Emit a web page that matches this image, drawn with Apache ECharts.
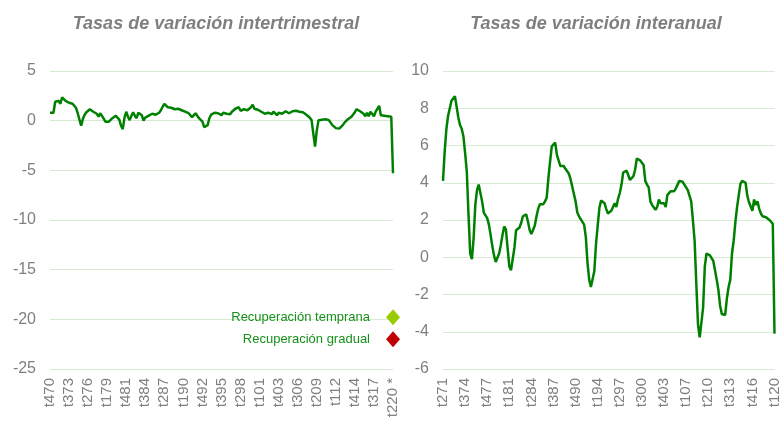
<!DOCTYPE html>
<html>
<head>
<meta charset="utf-8">
<script src="https://cdn.jsdelivr.net/npm/echarts@6/dist/echarts.min.js"></script>
<style>html,body{margin:0;padding:0;background:#fff}#c{width:782px;height:421px}</style>
</head>
<body>
<div id="c"></div>
<script>
// Quarter labels: "t" + quarter + two-digit year
function quarterLabels(year, q, n) {
  var out = [];
  for (var k = 0; k < n; k++) {
    out.push('t' + q + String(year % 100).padStart(2, '0'));
    q++; if (q > 4) { q = 1; year++; }
  }
  return out;
}

var leftTitle = 'Tasas de variación intertrimestral';
var rightTitle = 'Tasas de variación interanual';

// Quarter-on-quarter rates (1970 T4 .. 2020 T2)
var leftValues = [
  0.8, 0.8, 0.8, 1.9, 1.8, 2.0, 1.7, 2.35, 2.2, 2.0,
  1.9, 1.8, 1.75, 1.7, 1.7, 1.3, 0.75, 0.1, -0.5, 0.2,
  0.6, 0.85, 1.05, 1.15, 1.0, 0.9, 0.85, 0.7, 0.4, 0.75,
  0.6, 0.2, -0.1, -0.15, -0.1, 0.1, 0.25, 0.4, 0.5, 0.7,
  0.1, -0.5, -0.85, 0.3, 0.9, 0.4, 0.05, 0.5, 0.85, 0.5,
  0.25, 0.8, 0.75, 0.55, 0.0, 0.3, 0.45, 0.5, 0.55, 0.7,
  0.9, 0.6, 0.45, 0.8, 1.05, 1.4, 1.7, 1.6, 1.35, 1.15,
  1.3, 1.25, 1.15, 1.05, 1.2, 1.15, 1.05, 0.95, 0.9, 0.85,
  0.75, 0.55, 0.35, 0.55, 0.75, 0.5, 0.25, 0.05, -0.1, -0.65,
  -0.6, -0.45, 0.25, 0.6, 0.8, 0.8, 0.75, 0.75, 0.6, 0.55,
  0.8, 0.65, 0.7, 0.9, 0.65, 0.9, 1.05, 1.2, 1.3, 1.35,
  1.0, 1.05, 1.15, 1.1, 1.05, 1.2, 1.35, 1.6, 1.2, 1.05,
  1.1, 0.95, 0.9, 0.8, 0.7, 0.55, 0.8, 0.75, 0.65, 0.9,
  0.7, 0.55, 0.8, 0.9, 0.7, 0.75, 0.95, 0.9, 0.75, 0.85,
  0.95, 1.05, 1.0, 0.9, 0.9, 0.85, 0.85, 0.8, 0.6, 0.45,
  0.3, 0.05, -1.3, -2.6, -1.0, 0.05, 0.25, 0.1, 0.05, 0.15,
  0.15, 0.05, -0.2, -0.45, -0.6, -0.75, -0.95, -0.8, -0.65, -0.45,
  -0.2, 0.0, 0.15, 0.3, 0.4, 0.6, 0.85, 1.15, 1.05, 0.95,
  0.9, 0.7, 0.45, 0.8, 0.45, 0.9, 0.7, 0.45, 0.9, 0.8,
  1.5, 0.55, 0.55, 0.5, 0.4, 0.45, 0.4, 0.4, -5.3
];

// Year-on-year rates (1971 T2 .. 2020 T1)
var rightValues = [
  4.1, 5.7, 6.9, 7.6, 8.0, 8.4, 8.45, 8.65, 8.1, 7.5,
  7.1, 6.9, 6.5, 5.6, 4.6, 2.3, 0.2, -0.1, 1.0, 2.8,
  3.6, 3.9, 3.8, 3.0, 2.4, 2.3, 2.1, 1.75, 1.2, 0.6,
  0.1, -0.25, -0.25, 0.2, 0.65, 1.2, 1.65, 1.5, 0.5, -0.5,
  -0.7, -0.1, 0.5, 1.45, 1.55, 1.6, 1.85, 2.2, 2.3, 2.3,
  1.9, 1.45, 1.25, 1.2, 1.7, 2.2, 2.6, 2.85, 2.85, 2.85,
  3.0, 3.2, 4.25, 5.15, 5.95, 6.05, 6.15, 5.5, 5.2, 4.9,
  4.85, 4.9, 4.75, 4.65, 4.5, 4.2, 3.8, 3.4, 3.0, 2.4,
  2.2, 2.1, 1.9, 1.75, 1.1, -0.3, -1.2, -1.6, -1.65, -0.75,
  0.7, 1.7, 2.65, 3.05, 3.0, 2.9, 2.6, 2.35, 2.3, 2.5,
  2.55, 2.9, 2.7, 3.15, 3.45, 3.9, 4.55, 4.5, 4.65, 4.4,
  4.15, 4.25, 4.35, 4.7, 5.3, 5.4, 5.2, 5.1, 4.95, 4.1,
  3.9, 3.75, 3.0, 2.8, 2.85, 2.55, 2.7, 3.1, 2.9, 3.0,
  2.9, 2.7, 3.35, 3.4, 3.55, 3.6, 3.55, 3.7, 3.9, 4.1,
  4.1, 4.05, 3.9, 3.8, 3.6, 3.5, 3.0, 2.0, 0.9, -1.4,
  -3.6, -4.3, -4.4, -2.7, -0.5, 0.2, 0.3, 0.1, 0.05, -0.2,
  -0.7, -1.2, -1.75, -2.6, -3.05, -3.15, -3.1, -2.2, -1.6, -1.2,
  0.2, 0.9, 1.9, 2.7, 3.35, 3.95, 4.1, 4.15, 4.0, 3.3,
  2.95, 2.9, 2.5, 3.1, 2.8, 3.0, 2.6, 2.35, 2.2, 2.2,
  2.15, 2.1, 2.0, 1.9, 1.8, -4.1
];

var leftCategories = quarterLabels(1970, 4, leftValues.length);
leftCategories[leftCategories.length - 1] = leftCategories[leftCategories.length - 1] + ' *';
var rightCategories = quarterLabels(1971, 2, rightValues.length);

// Scenario markers at the last quarter of the left panel
var scenarioNames = ['Recuperación temprana', 'Recuperación gradual'];
var scenarioValues = [-19.8, -22.0];
var scenarioColors = ['#99cc00', '#c00000'];

var gridColor = '#d7e9d3';
var textGray = '#7f7f7f';
var lineGreen = '#008000';
var font = 'Liberation Sans, Arial, sans-serif';

function xAx(gridIndex, data, interval) {
  return {
    type: 'category', gridIndex: gridIndex, data: data, boundaryGap: false,
    axisLine: { show: false }, axisTick: { show: false },
    axisLabel: { rotate: 90, interval: interval, color: textGray, fontSize: 15,
      fontFamily: font, margin: 9 },
    splitLine: { show: false }
  };
}
function yAx(gridIndex, min, max, interval) {
  return {
    type: 'value', gridIndex: gridIndex, min: min, max: max, interval: interval,
    axisLine: { show: false }, axisTick: { show: false },
    axisLabel: { color: textGray, fontSize: 16, fontFamily: font, margin: 14 },
    splitLine: { lineStyle: { color: gridColor, width: 1 } }
  };
}

var scatterSeries = scenarioNames.map(function (name, k) {
  var d = new Array(leftValues.length).fill('-');
  d[leftValues.length - 1] = scenarioValues[k];
  return {
    name: name, type: 'scatter', xAxisIndex: 0, yAxisIndex: 0, data: d,
    symbol: 'diamond', symbolSize: [14, 16], clip: false, z: 5,
    itemStyle: { color: scenarioColors[k], opacity: 1 },
    label: { show: true, position: 'left', distance: 16, formatter: name,
      color: '#16901a', fontSize: 13, fontFamily: font }
  };
});

var chart = echarts.init(document.getElementById('c'), null, { renderer: 'canvas' });
chart.setOption({
  animation: false,
  backgroundColor: '#ffffff',
  title: [
    { text: leftTitle, left: 211, top: 10, textAlign: 'center',
      textStyle: { color: textGray, fontSize: 18, fontWeight: 'bold', fontStyle: 'italic', fontFamily: font } },
    { text: rightTitle, left: 591, top: 10, textAlign: 'center',
      textStyle: { color: textGray, fontSize: 18, fontWeight: 'bold', fontStyle: 'italic', fontFamily: font } }
  ],
  grid: [
    { left: 50, right: 389, top: 71, bottom: 52 },
    { left: 443, right: 7, top: 71, bottom: 52 }
  ],
  xAxis: [ xAx(0, leftCategories, 10), xAx(1, rightCategories, 12) ],
  yAxis: [ yAx(0, -25, 5, 5), yAx(1, -6, 10, 2) ],
  series: [
    { type: 'line', xAxisIndex: 0, yAxisIndex: 0, data: leftValues, showSymbol: false,
      lineStyle: { color: lineGreen, width: 2.5 }, z: 3 },
    { type: 'line', xAxisIndex: 1, yAxisIndex: 1, data: rightValues, showSymbol: false,
      lineStyle: { color: lineGreen, width: 2.5 }, z: 3 }
  ].concat(scatterSeries)
});
</script>
</body>
</html>
